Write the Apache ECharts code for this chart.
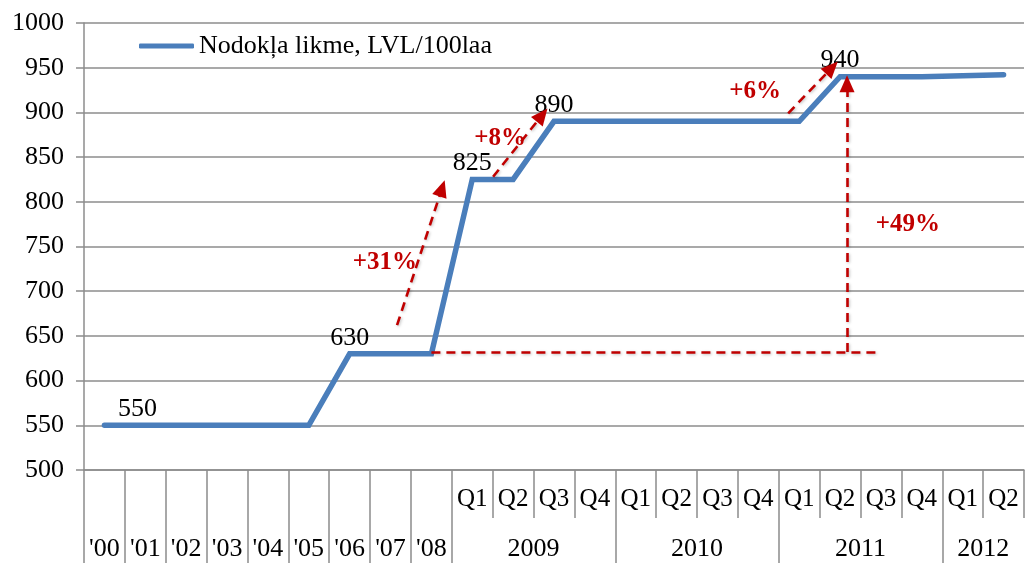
<!DOCTYPE html>
<html>
<head>
<meta charset="utf-8">
<script src="https://cdn.jsdelivr.net/npm/echarts@6/dist/echarts.min.js"></script>
<style>
  html, body { margin: 0; padding: 0; background: #ffffff; }
  #chart { width: 1025px; height: 563px; }
</style>
</head>
<body>
<div id="chart"></div>
<script>
// Annual points 2000–2008, then quarterly points 2009 Q1 – 2012 Q2
const yearLabels = ["'00", "'01", "'02", "'03", "'04", "'05", "'06", "'07", "'08"];
const quarterGroups = ["2009", "2010", "2011", "2012"];
const quarterCounts = [4, 4, 4, 2];

const seriesName = 'Nodokļa likme, LVL/100laa';
const rates = [550, 550, 550, 550, 550, 550, 630, 630, 630,
               825, 825, 890, 890,
               890, 890, 890, 890,
               890, 940, 940, 940,
               941, 942];
// points whose value is printed next to them
const labelledPoints = [0, 6, 9, 11, 18];

const yMin = 500, yMax = 1000, yStep = 50;

// growth annotations, in [category position, value] units
const growthArrows = [
  { from: [7.16, 662], to: [8.26, 815] },
  { from: [9.51, 828], to: [10.71, 897] },
  { from: [16.73, 899], to: [17.8, 950] },
  { from: [18.17, 632], to: [18.17, 932] }
];
const baseLevel = { from: [8, 632], to: [19, 632] };
const growthTexts = [
  { text: '+31%', at: [6.86, 732] },
  { text: '+8%', at: [9.68, 871] },
  { text: '+6%', at: [15.92, 923] },
  { text: '+49%', at: [19.66, 775] }
];

// build the category list and the two label rows
const quarterNames = [];
quarterCounts.forEach(n => { for (let q = 1; q <= n; q++) quarterNames.push('Q' + q); });
const categories = yearLabels.concat(quarterNames);
const nYears = yearLabels.length;
const nCats = categories.length;

const quarterCenters = quarterNames.map((_, i) => nYears + i);
const quarterEdges = [];
for (let i = nYears - 0.5; i <= nCats - 0.5 + 1e-9; i += 1) quarterEdges.push(i);

const longEdges = [];
for (let i = 0; i <= nYears; i++) longEdges.push(i - 0.5);
const bottomLabelPos = yearLabels.map((_, i) => i);
const bottomLabelText = {};
yearLabels.forEach((t, i) => { bottomLabelText[i] = t; });
let start = nYears;
quarterGroups.forEach((g, k) => {
  const end = start + quarterCounts[k];
  const c = (start + end - 1) / 2;
  bottomLabelPos.push(c);
  bottomLabelText[c] = g;
  if (end < nCats) longEdges.push(end - 0.5);
  start = end;
});

const FONT = 'Liberation Serif';
const FS = 26;
const GRAY = '#8c8c8c';
const RED = '#c00000';
const BLUE = '#4a7ebb';

const lineData = rates.map((v, i) => {
  if (labelledPoints.indexOf(i) < 0) return v;
  return {
    value: v,
    label: {
      show: true,
      position: 'top',
      distance: 3,
      offset: i === 0 ? [33, 0] : [0, 0],
      color: '#000',
      fontFamily: FONT,
      fontSize: FS
    }
  };
});

const arrowLines = growthArrows.map(a => [{ coord: a.from }, { coord: a.to }]);
arrowLines.push([
  { coord: baseLevel.from, symbol: 'none' },
  { coord: baseLevel.to, symbol: 'none' }
]);

const chart = echarts.init(document.getElementById('chart'), null, { renderer: 'canvas' });
chart.setOption({
  animation: false,
  backgroundColor: '#ffffff',
  grid: { left: 84, right: 1, top: 23, bottom: 93, containLabel: false },
  legend: {
    left: 134,
    top: 28,
    itemWidth: 55,
    itemHeight: 5,
    data: [{ name: seriesName, icon: 'roundRect' }],
    textStyle: { fontFamily: FONT, fontSize: FS, color: '#000' }
  },
  xAxis: [
    {
      type: 'category',
      data: categories,
      boundaryGap: true,
      axisLine: { show: true, lineStyle: { color: GRAY, width: 1.5 } },
      axisTick: { show: false },
      axisLabel: { show: false },
      splitLine: { show: false }
    },
    {
      type: 'value',
      min: -0.5,
      max: nCats - 0.5,
      position: 'bottom',
      axisLine: { show: false },
      splitLine: { show: false },
      axisTick: {
        show: true,
        customValues: quarterEdges,
        length: 48,
        lineStyle: { color: GRAY, width: 1.5 }
      },
      axisLabel: {
        customValues: quarterCenters,
        formatter: v => categories[Math.round(v)] || '',
        margin: 17,
        color: '#000',
        fontFamily: FONT,
        fontSize: 25
      }
    },
    {
      type: 'value',
      min: -0.5,
      max: nCats - 0.5,
      position: 'bottom',
      axisLine: { show: false },
      splitLine: { show: false },
      axisTick: {
        show: true,
        customValues: longEdges,
        length: 93,
        lineStyle: { color: GRAY, width: 1.5 }
      },
      axisLabel: {
        customValues: bottomLabelPos,
        formatter: v => bottomLabelText[v] || '',
        margin: 66,
        color: '#000',
        fontFamily: FONT,
        fontSize: FS
      }
    }
  ],
  yAxis: {
    type: 'value',
    min: yMin,
    max: yMax,
    interval: yStep,
    axisLine: { show: true, onZero: false, lineStyle: { color: GRAY, width: 1.5 } },
    axisTick: { show: true, length: 8, lineStyle: { color: GRAY, width: 1.5 } },
    axisLabel: { margin: 20, color: '#000', fontFamily: FONT, fontSize: FS, formatter: v => String(v) },
    splitLine: { show: true, lineStyle: { color: GRAY, width: 1.5 } }
  },
  series: [
    {
      name: seriesName,
      type: 'line',
      xAxisIndex: 0,
      data: lineData,
      symbol: 'circle',
      symbolSize: 0,
      showSymbol: true,
      lineStyle: { color: BLUE, width: 5.5, cap: 'round', join: 'miter' },
      itemStyle: { color: BLUE },
      z: 3
    },
    {
      name: 'growth',
      type: 'line',
      xAxisIndex: 1,
      data: [],
      silent: true,
      z: 4,
      markLine: {
        silent: true,
        symbol: ['none', 'triangle'],
        symbolSize: [15, 17],
        label: { show: false },
        lineStyle: { color: RED, width: 2.6, type: [9, 6], shadowBlur: 3, shadowColor: 'rgba(0,0,0,0.25)', shadowOffsetX: 1, shadowOffsetY: 1 },
        itemStyle: { color: RED },
        data: arrowLines
      },
      markPoint: {
        silent: true,
        symbol: 'circle',
        symbolSize: 0,
        label: {
          show: true,
          position: 'inside',
          formatter: p => p.name,
          color: RED,
          fontFamily: FONT,
          fontWeight: 'bold',
          fontSize: 25
        },
        data: growthTexts.map(t => ({ name: t.text, coord: t.at }))
      }
    }
  ]
});
</script>
</body>
</html>
